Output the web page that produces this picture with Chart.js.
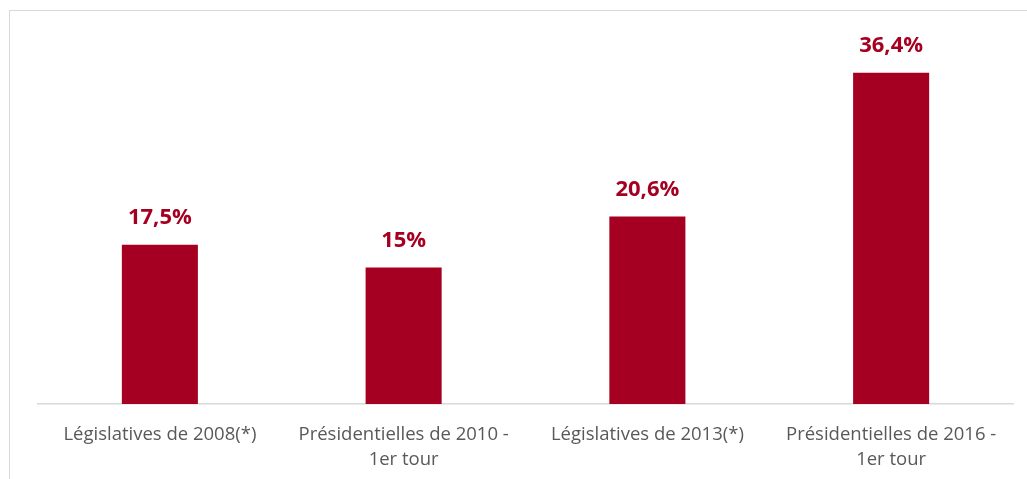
<!DOCTYPE html>
<html>
<head>
<meta charset="utf-8">
<script src="https://cdn.jsdelivr.net/npm/chart.js@4"></script>
<style>
  html, body { margin: 0; padding: 0; background: #fff; }
  #wrap { position: relative; width: 1027px; height: 479px; }
  #frame { position: absolute; left: 9px; top: 10px; width: 1030px; height: 480px;
           border-left: 1px solid #d9d9d9; border-top: 1px solid #d9d9d9; }
  canvas { position: absolute; left: 0; top: 0; }
</style>
</head>
<body>
<div id="wrap">
  <div id="frame"></div>
  <canvas id="myChart" width="1027" height="479"></canvas>
</div>
<script>
const categories = [
    ['Législatives de 2008(*)'],
    ['Présidentielles de 2010 -', '1er tour'],
    ['Législatives de 2013(*)'],
    ['Présidentielles de 2016 -', '1er tour']
];
const values = [17.5, 15, 20.6, 36.4];
const valueLabels = ['17,5%', '15%', '20,6%', '36,4%'];

const barColor = '#a50021';

// draws the percentage above each bar
const valueLabelPlugin = {
    id: 'valueLabels',
    afterDatasetsDraw(chart) {
        const ctx = chart.ctx;
        const meta = chart.getDatasetMeta(0);
        ctx.save();
        ctx.fillStyle = barColor;
        ctx.font = 'bold 22px "Open Sans", sans-serif';
        ctx.textAlign = 'center';
        ctx.textBaseline = 'middle';
        meta.data.forEach((bar, i) => {
            ctx.fillText(valueLabels[i], bar.x, bar.y - 27);
        });
        ctx.restore();
    }
};

new Chart(document.getElementById('myChart'), {
    type: 'bar',
    data: {
        labels: categories,
        datasets: [{
            data: values,
            backgroundColor: barColor,
            barPercentage: 1,
            categoryPercentage: 0.312
        }]
    },
    options: {
        responsive: false,
        animation: false,
        layout: { padding: { left: 38, right: 14, top: 40, bottom: 0 } },
        scales: {
            y: {
                display: false,
                min: 0,
                max: 40
            },
            x: {
                grid: { display: false, drawTicks: false },
                border: { display: true, color: '#d9d9d9', width: 1.5 },
                ticks: {
                    color: '#595959',
                    font: { family: '"Open Sans", sans-serif', size: 18.5, lineHeight: 1.36 },
                    padding: 18,
                    maxRotation: 0,
                    autoSkip: false
                },
                afterFit(scale) { scale.height = 75; }
            }
        },
        plugins: {
            legend: { display: false },
            tooltip: { enabled: false }
        }
    },
    plugins: [valueLabelPlugin]
});
</script>
</body>
</html>
